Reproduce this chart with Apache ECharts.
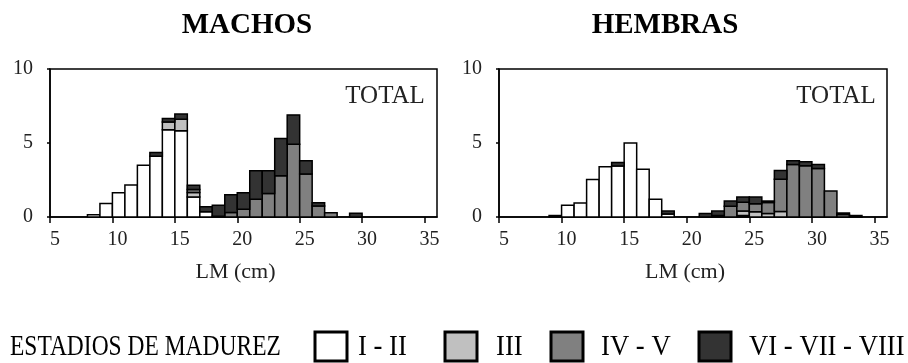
<!DOCTYPE html>
<html>
<head>
<meta charset="utf-8">
<script src="https://cdn.jsdelivr.net/npm/echarts@6/dist/echarts.min.js"></script>
<style>
  html, body { margin: 0; padding: 0; background: #fff; }
  #chart { width: 908px; height: 363px; }
</style>
</head>
<body>
<div id="chart"></div>
<script>
// estadios de madurez
const stages = ['I - II', 'III', 'IV - V', 'VI - VII - VIII'];
const stageColors = ['#ffffff', '#c0c0c0', '#808080', '#333333'];

// MACHOS, clases de 1 cm (limite inferior)
const machosBins = [8, 9, 10, 11, 12, 13, 14, 15, 16, 17, 18, 19, 20, 21, 22, 23, 24, 25, 26, 27, 28, 29];
const machosI   = [0.15, 0.92, 1.64, 2.16, 3.5, 4.1, 5.9, 5.83, 1.35, 0.35, 0, 0, 0, 0, 0, 0, 0, 0, 0, 0, 0, 0];
const machosIII = [0, 0, 0, 0, 0, 0, 0.52, 0.77, 0.3, 0, 0, 0, 0, 0, 0, 0, 0, 0, 0, 0, 0, 0];
const machosIV  = [0, 0, 0, 0, 0, 0, 0, 0, 0.2, 0, 0.05, 0.3, 0.52, 1.2, 1.58, 2.78, 4.92, 2.9, 0.74, 0.28, 0, 0];
const machosVI  = [0, 0, 0, 0, 0, 0.25, 0.23, 0.36, 0.3, 0.35, 0.75, 1.2, 1.12, 1.93, 1.55, 2.52, 1.98, 0.9, 0.22, 0, 0, 0.25];

// HEMBRAS
const hembrasBins = [9, 10, 11, 12, 13, 14, 15, 16, 17, 18, 19, 20, 21, 22, 23, 24, 25, 26, 27, 28, 29, 30, 31, 32, 33];
const hembrasI   = [0.1, 0.79, 0.95, 2.53, 3.39, 3.45, 5.0, 3.23, 1.2, 0.2, 0, 0, 0, 0, 0, 0.1, 0, 0, 0, 0, 0, 0, 0, 0, 0];
const hembrasIII = [0, 0, 0, 0, 0, 0, 0, 0, 0, 0, 0, 0, 0, 0, 0, 0.3, 0.35, 0.23, 0.38, 0, 0, 0, 0, 0, 0];
const hembrasIV  = [0, 0, 0, 0, 0, 0, 0, 0, 0, 0, 0, 0, 0, 0.1, 0.72, 0.6, 0.55, 0.75, 2.17, 3.55, 3.46, 3.28, 1.76, 0.17, 0];
const hembrasVI  = [0, 0, 0, 0, 0, 0.23, 0, 0, 0, 0.2, 0, 0, 0.23, 0.3, 0.36, 0.35, 0.45, 0.1, 0.6, 0.25, 0.27, 0.27, 0, 0.1, 0.1];

const xTicks = [5, 10, 15, 20, 25, 30, 35];
const yTicks = [0, 5, 10];

const FONT = 'Liberation Serif';

function stackSeries(bins, layers, gridIndex) {
  const base = bins.map(() => 0);
  return layers.map((vals, k) => {
    const data = [];
    bins.forEach((b, i) => {
      if (vals[i] > 0) data.push([b, base[i], base[i] + vals[i]]);
      base[i] += vals[i];
    });
    return {
      type: 'custom',
      name: stages[k],
      xAxisIndex: gridIndex,
      yAxisIndex: gridIndex,
      data: data,
      renderItem: function (params, api) {
        const p0 = api.coord([api.value(0), api.value(1)]);
        const p1 = api.coord([api.value(0) + 1, api.value(2)]);
        return {
          type: 'rect',
          shape: { x: p0[0], y: p1[1], width: p1[0] - p0[0], height: p0[1] - p1[1] },
          style: { fill: stageColors[k], stroke: '#000', lineWidth: 1.5 }
        };
      }
    };
  });
}

function xAxis(gridIndex) {
  return {
    gridIndex: gridIndex,
    type: 'value',
    min: 5,
    max: 36,
    interval: 5,
    name: 'LM (cm)',
    nameLocation: 'middle',
    nameGap: 44,
    nameTextStyle: { fontFamily: FONT, fontSize: 22, color: '#222', padding: [0, 16, 0, 0] },
    axisLine: { show: true, lineStyle: { color: '#000', width: 1.5 } },
    axisTick: { show: true, inside: false, length: 6, customValues: xTicks, lineStyle: { color: '#000', width: 1.5 } },
    axisLabel: { customValues: xTicks, fontFamily: FONT, fontSize: 20, color: '#222', margin: 13, padding: [0, 0, 0, 10] },
    splitLine: { show: false }
  };
}

function yAxis(gridIndex) {
  return {
    gridIndex: gridIndex,
    type: 'value',
    min: 0,
    max: 10,
    interval: 5,
    axisLine: { show: true, lineStyle: { color: '#000', width: 1.5 } },
    axisTick: { show: true, length: 3, customValues: yTicks, lineStyle: { color: '#000', width: 1.5 } },
    axisLabel: { customValues: yTicks, fontFamily: FONT, fontSize: 20, color: '#222', margin: 17 },
    splitLine: { show: false }
  };
}

// legend drawn as graphic (condensed text like the original)
const legendBoxX = [315, 445, 551, 699];
const legendTextX = [358, 496, 601, 749];
const legendGraphic = [{
  type: 'text', x: 10, y: 347, scaleX: 0.81,
  style: { text: 'ESTADIOS DE MADUREZ', font: '29px "Liberation Serif"', fill: '#000', textVerticalAlign: 'middle' }
}];
stages.forEach((s, k) => {
  legendGraphic.push({
    type: 'rect',
    shape: { x: legendBoxX[k], y: 332, width: 32, height: 29 },
    style: { fill: stageColors[k], stroke: '#000', lineWidth: 3 }
  });
  legendGraphic.push({
    type: 'text', x: legendTextX[k], y: 347, scaleX: 0.92,
    style: { text: s, font: '29px "Liberation Serif"', fill: '#000', textVerticalAlign: 'middle' }
  });
});

const chart = echarts.init(document.getElementById('chart'));
chart.setOption({
  animation: false,
  backgroundColor: '#fff',
  title: [
    { text: 'MACHOS', left: 242, top: 6, textAlign: 'center',
      textStyle: { fontFamily: FONT, fontSize: 29, fontWeight: 'bold', color: '#000' } },
    { text: 'HEMBRAS', left: 660, top: 6, textAlign: 'center',
      textStyle: { fontFamily: FONT, fontSize: 29, fontWeight: 'bold', color: '#000' } },
    { text: 'TOTAL', left: 380, top: 79, textAlign: 'center',
      textStyle: { fontFamily: FONT, fontSize: 25, fontWeight: 'normal', color: '#222' } },
    { text: 'TOTAL', left: 831, top: 79, textAlign: 'center',
      textStyle: { fontFamily: FONT, fontSize: 25, fontWeight: 'normal', color: '#222' } }
  ],
  grid: [
    { left: 50, right: 471, top: 69, bottom: 146, show: true, borderColor: '#000', borderWidth: 1.5, backgroundColor: 'transparent' },
    { left: 499, right: 21, top: 69, bottom: 146, show: true, borderColor: '#000', borderWidth: 1.5, backgroundColor: 'transparent' }
  ],
  xAxis: [xAxis(0), xAxis(1)],
  yAxis: [yAxis(0), yAxis(1)],
  series: [
    ...stackSeries(machosBins, [machosI, machosIII, machosIV, machosVI], 0),
    ...stackSeries(hembrasBins, [hembrasI, hembrasIII, hembrasIV, hembrasVI], 1)
  ],
  graphic: legendGraphic
});
</script>
</body>
</html>
